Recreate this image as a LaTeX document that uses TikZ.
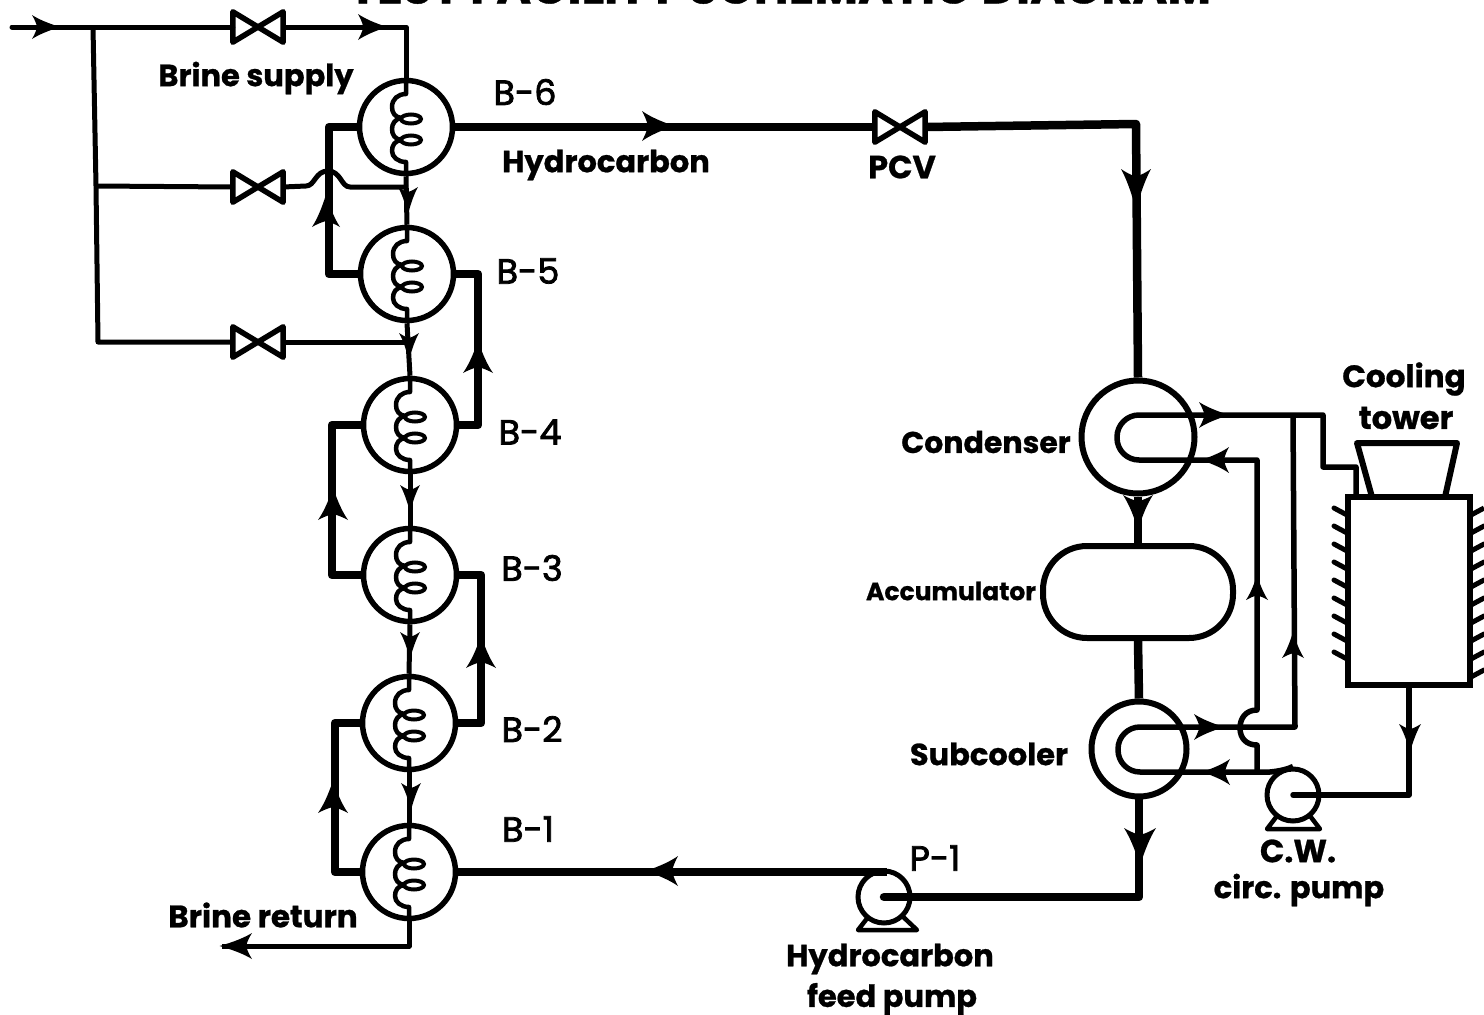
\documentclass[tikz,border=0pt]{standalone}
\usepackage{fontspec}
\setmainfont{Poppins}[BoldFont={Poppins Bold},BoldFeatures={FakeBold=0.8}]
\newfontfamily\idfont{Poppins}[FakeBold=2.2]
\tikzset{
  brine/.style={line width=5pt,line join=round},
  hc/.style={line width=8.5pt,line join=round},
  cw/.style={line width=5.5pt,line join=round},
  hx/.style={circle,draw,line width=5.5pt,inner sep=0pt,minimum size=93pt},
  bigv/.style={circle,draw,line width=6pt,inner sep=0pt,minimum size=#1},
  pumpc/.style={circle,draw,fill=white,line width=5pt,inner sep=0pt,minimum size=52pt},
  valvebox/.style={inner sep=0pt,minimum width=50pt,minimum height=30pt},
  valveline/.style={line width=5.5pt,line join=round,fill=white},
  lab/.style={font=\bfseries\fontsize{#1}{#1}\selectfont,inner sep=0pt},
  lab/.default=28,
  idl/.style={font=\idfont\fontsize{35}{35}\selectfont,inner sep=0pt},
}
\newcommand{\arrowtip}[5]{% x y dir len halfwidth
  \fill[shift={(#1,#2)},rotate=#3,xscale=#4,yscale=#5]
    (0.08,0) .. controls (-.4,.32) and (-.75,.65) .. (-1,1)
    .. controls (-.92,.7) and (-.85,.4) .. (-.8,0)
    .. controls (-.85,-.4) and (-.92,-.7) .. (-1,-1)
    .. controls (-.75,-.65) and (-.4,-.32) .. (0.08,0) -- cycle;}
\newcommand{\valve}[3]{%
  \node[valvebox] (#1) at (#2,#3) {};
  \draw[valveline] (#1.north west) -- (#1.south east) -- (#1.north east) -- (#1.south west) -- cycle;}
\newcommand{\coil}[1]{%
  \begin{scope}[shift={(#1.center)}]
    \draw[line width=4.5pt,line join=round] (0,-47) -- (0,-33) .. controls (-8,-33) and (-14,-28) .. (-14,-20)
      .. controls (-14,-14) and (-11,-10) .. (-5,-9)
      .. controls (-11,-8) and (-14,-3) .. (-14,2)
      .. controls (-14,8) and (-11,12) .. (-5,13)
      .. controls (-11,14) and (-14,18) .. (-14,24)
      .. controls (-14,30) and (-8,35) .. (0,35) -- (0,47);
    \draw[line width=4pt] (5,-8) ellipse [x radius=10pt,y radius=4.5pt];
    \draw[line width=4pt] (5,13) ellipse [x radius=10pt,y radius=4.5pt];
  \end{scope}}
\begin{document}
\begin{tikzpicture}[x=1pt,y=-1pt]
\useasboundingbox (0,0) rectangle (1484,1015);

% title, cut by the top edge
\node[anchor=base,inner sep=0pt] (title) at (780,3.5)
  {\resizebox{862pt}{!}{\bfseries TEST FACILITY SCHEMATIC DIAGRAM}};

% exchangers
\node[hx] (B6) at (406,127) {};
\node[hx] (B5) at (407,274) {};
\node[hx] (B4) at (410,425) {};
\node[hx] (B3) at (410,575) {};
\node[hx] (B2) at (409,723) {};
\node[hx] (B1) at (409,872) {};
\node[bigv=113pt] (CD) at (1138,437) {};
\node[bigv=95pt] (SC) at (1139,749) {};
\node[draw,line width=6pt,rounded corners=44pt,inner sep=0pt,minimum width=190pt,minimum height=92pt] (ACC) at (1138,592) {};
\node[draw,line width=6pt,inner sep=0pt,minimum width=122pt,minimum height=188pt] (TW) at (1409,591) {};

% brine supply
\coordinate (in) at (12,27);
\coordinate (tee1) at (93,27);
\coordinate (tee2) at (96,186);
\coordinate (tee3) at (98,342);
\coordinate (top) at (406,27);
\coordinate (j2) at (408,187);
\coordinate (j3) at (408,342);
\valve{V1}{258}{27}
\valve{V2}{258}{187}
\valve{V3}{258}{342}
\draw[brine,line cap=round] (in) -- (V1.west);
\draw[brine] (V1.east) -- (top) -- (B6.north);
\draw[brine] (tee1) -- (tee2) -- (tee3) -- (V3.west);
\draw[brine] (tee2) -- (V2.west);
\draw[brine] (V2.east) -- (306,186) .. controls (315,186) and (315,171) .. (328,171)
  .. controls (341,171) and (341,187) .. (350,187) -- (j2);
\draw[brine] (V3.east) -- (j3);
\arrowtip{58}{27}{0}{26}{12}
\arrowtip{385}{27}{0}{27}{13}

% brine through the exchangers
\draw[brine] (B6.south) -- (B5.north);
\draw[brine] (B5.south) -- (B4.north);
\draw[brine] (B4.south) -- (B3.north);
\draw[brine] (B3.south) -- (B2.north);
\draw[brine] (B2.south) -- (B1.north);
\coordinate (ret) at (222,946);
\draw[brine] (B1.south) |- (ret);
\coil{B6}\coil{B5}\coil{B4}\coil{B3}\coil{B2}\coil{B1}
\arrowtip{408}{212}{270}{25}{10}
\arrowtip{409}{358}{270}{25}{10}
\arrowtip{410}{510}{270}{25}{10}
\arrowtip{410}{657}{270}{25}{10}
\arrowtip{411}{808}{270}{25}{10}
\arrowtip{222}{946}{180}{30}{13}

% hydrocarbon loop
\draw[hc] (B5.west) -| (329,200) |- (B6.west);
\draw[hc] (B4.east) -| (478,350) |- (B5.east);
\draw[hc] (B3.west) -| (332,500) |- (B4.west);
\draw[hc] (B2.east) -| (481,650) |- (B3.east);
\draw[hc] (B1.west) -| (335,800) |- (B2.west);
\arrowtip{326}{197}{90}{30}{14}
\arrowtip{478}{343}{90}{30}{15}
\arrowtip{333}{490}{90}{30}{15}
\arrowtip{481}{638}{90}{30}{15}
\arrowtip{333}{783}{90}{30}{15}

\valve{PCV}{900}{127}
\coordinate (hcTurn) at (1136,124);
\draw[hc] (B6.east) -- (PCV.west);
\draw[hc] (PCV.east) -- (hcTurn) -- (CD.north);
\arrowtip{672}{126}{0}{30}{15}
\arrowtip{1136}{207}{270}{38}{15}
\draw[hc] (CD.south) -- (ACC.north);
\draw[hc] (ACC.south) -- (SC.north);
\arrowtip{1138}{527}{270}{32}{15}
\arrowtip{1140}{863}{270}{35}{16}

% feed pump
\draw[line width=4.5pt,line join=round,fill=white] (858,930) -- (872,912) -- (898,912) -- (917,930) -- cycle;
\node[pumpc] (P1) at (884,897) {};
\coordinate (p1in) at (887,872);
\draw[hc] (B1.east) -- (p1in);
\draw[hc,line cap=round] (P1.center) -| (SC.south);
\arrowtip{648}{871}{180}{30}{15}

% cooling water pump
\draw[line width=4.5pt,line join=round,fill=white] (1267,829) -- (1280,812) -- (1307,812) -- (1320,829) -- cycle;
\node[pumpc] (CW) at (1293,795) {};

% condenser tube
\coordinate (cdOut) at (1323,415);
\coordinate (towerIn) at (1356,497);
\coordinate (cdIn) at (1257,460);
\coordinate (scOut) at (1295,727);
\draw[cw] (towerIn) -- (1356,467) -- (1323,467) -- (cdOut) -- (1230,415)
  [rounded corners=22pt] -- (1117,415) -- (1117,460) [sharp corners] -- (cdIn)
  -- (1257,710) .. controls (1246,710) and (1240,718) .. (1240,728)
  .. controls (1240,738) and (1246,745) .. (1257,745) -- (1257,772);
\draw[cw] (1293,415) -- (scOut)
  -- (1170,727) [rounded corners=22pt] -- (1118,727) -- (1118,772) [sharp corners] -- (1270,772)
  .. controls (1280,771) and (1288,769) .. (CW.north);
\draw[cw,line cap=round] (CW.center) -| (TW.south);
\arrowtip{1227}{415}{0}{28}{13}
\arrowtip{1203}{460}{180}{26}{13}
\arrowtip{1257}{577}{90}{23}{11}
\arrowtip{1293}{634}{90}{24}{11}
\arrowtip{1222}{727}{0}{28}{13}
\arrowtip{1204}{772}{180}{26}{13}
\arrowtip{1410}{750}{270}{26}{11}

% tower fan and fins
\draw[line width=6pt,line join=round] (1372,497) -- (1357,443) -- (1457,443) -- (1445,497);
\foreach \yy in {515,533,551,569,587,605,623,641,659} {
  \draw[line width=5pt,line cap=round] (1347,\yy) -- (1334,\yy-7);
  \draw[line width=5pt,line cap=round] (1471,\yy+18) -- (1484,\yy+11);
}
\draw[line width=5pt] (1471,515) -- (1484,508);

% labels
\node[lab=30.5] (tBS) at (256,78) {Brine supply};
\node[lab=31] (tBR) at (263,915) {Brine return};
\node[lab=30.5] (tHC) at (606,165) {Hydrocarbon};
\node[lab=32] (tPCV) at (902,167) {PCV};
\node[lab=30] (tCD) at (986,442) {Condenser};
\node[lab=25] (tACC) at (951,591) {Accumulator};
\node[lab=30.5] (tSC) at (989,754) {Subcooler};
\node[lab=31] (tCT1) at (1404,379) {Cooling};
\node[lab=32] (tCT2) at (1406,418) {tower};
\node[lab=32] (tCW1) at (1298,851) {C.W.};
\node[lab=30.5] (tCW2) at (1299,890) {circ. pump};
\node[lab=30.5] (tFP1) at (890,959) {Hydrocarbon};
\node[lab=30.5] (tFP2) at (892,999) {feed pump};
\node[idl] (tB6) at (525,92) {B-6};
\node[idl] (tB5) at (528,271) {B-5};
\node[idl] (tB4) at (530,432) {B-4};
\node[idl] (tB3) at (532,568) {B-3};
\node[idl] (tB2) at (532,729) {B-2};
\node[idl] (tB1) at (528,829) {B-1};
\node[idl] (tP1) at (935,858) {P-1};
\end{tikzpicture}
\end{document}
